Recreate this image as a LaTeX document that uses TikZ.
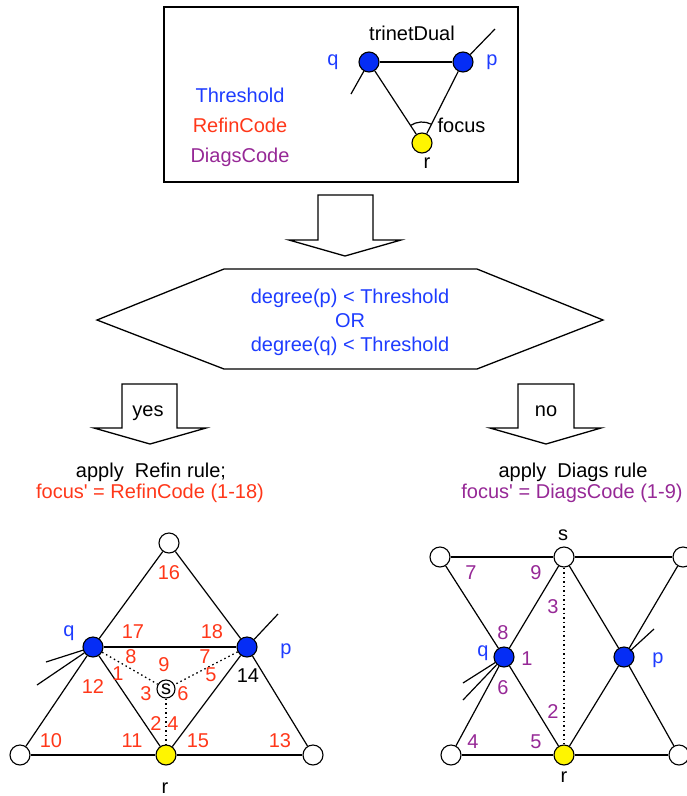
\documentclass[tikz,border=0pt]{standalone}
\usepackage{fontspec}
\setmainfont{Liberation Sans}
\usetikzlibrary{calc}
\definecolor{cblue}{RGB}{30,60,255}
\definecolor{cred}{RGB}{255,55,25}
\definecolor{cpurp}{RGB}{150,40,150}
\definecolor{cnode}{RGB}{5,45,245}
\definecolor{cyel}{RGB}{255,245,0}
\begin{document}
\begin{tikzpicture}[x=1pt,y=-1pt, line width=1.2pt,
  every node/.style={font=\fontsize{20}{24}\selectfont, inner sep=0pt},
  vert/.style={circle,draw,line width=1.1pt,minimum size=20pt,inner sep=0pt,fill=white},
  bvert/.style={vert,fill=cnode},
  yvert/.style={vert,fill=cyel},
  svert/.style={circle,draw,line width=1.1pt,minimum size=18pt,inner sep=0pt,fill=white},
  dots/.style={line width=1.3pt, dash pattern=on 1.5pt off 3pt},
  rlab/.style={text=cred}, plab/.style={text=cpurp}, blab/.style={text=cblue},
  blockarrow/.style={draw,line width=1.3pt,fill=white,line join=miter}
]
\useasboundingbox (0,0) rectangle (687,796);

% ---------- top box ----------
\node[draw, line width=1.3pt, minimum width=354pt, minimum height=175pt] (box) at (341,94.5) {};
\node[bvert] (tq) at (369,62) {};
\node[bvert] (tp) at (463,62) {};
\node[yvert] (tr) at (422,143) {};
\draw (tq) -- (tp);
\draw (tq) -- (tr);
\draw (tp) -- (tr);
\coordinate (tqs) at (351,94);
\coordinate (tps) at (495,29);
\draw (tq) -- (tqs);
\draw (tp) -- (tps);
\draw ($(tr)+(63:21pt)$) arc[start angle=63,end angle=123,radius=21pt];
\node[anchor=base] (ttd) at (412,40) {trinetDual};
\node[blab] (tql) at (333,62) {q};
\node[blab] (tpl) at (492,62) {p};
\node (trl) at (427,163) {r};
\node[anchor=base west] (tfoc) at (437,132) {focus};
\node[blab,anchor=base] (thr) at (240,102) {Threshold};
\node[rlab,anchor=base] (rfc) at (240,132) {RefinCode};
\node[plab,anchor=base] (dgc) at (240,162) {DiagsCode};

% ---------- arrow and condition ----------
\draw[blockarrow] (318,195) -- (373,195) -- (373,240) -- (401,240) -- (345,256) -- (289,240) -- (318,240) -- cycle;
\draw[line width=1.3pt, line join=miter] (97,320) -- (224,269) -- (477,269) -- (603,320) -- (477,369) -- (224,369) -- cycle;
\node[blab, align=center] (cond) at (350,322) {degree(p) < Threshold\\OR\\degree(q) < Threshold};

\draw[blockarrow] (122,384) -- (177,384) -- (177,428) -- (206,428) -- (150,444) -- (94,428) -- (122,428) -- cycle;
\draw[blockarrow] (518,384) -- (574,384) -- (574,428) -- (601,428) -- (546,444) -- (490,428) -- (518,428) -- cycle;
\node[anchor=base] (yes) at (148,416) {yes};
\node[anchor=base] (no) at (546,416) {no};

\node[anchor=base] (appl) at (151,477) {apply~ Refin rule;};
\node[rlab,anchor=base] (focl) at (150,498) {focus\textquotesingle{} = RefinCode (1-18)};
\node[anchor=base] (appr) at (573,477) {apply~ Diags rule};
\node[plab,anchor=base] (focr) at (572,498) {focus\textquotesingle{} = DiagsCode (1-9)};

% ---------- left diagram ----------
\node[vert] (Lt) at (169,543) {};
\node[bvert] (Lq) at (93,647) {};
\node[bvert] (Lp) at (247,647) {};
\node[vert] (Lbl) at (20,755) {};
\node[yvert] (Lr) at (166,755) {};
\node[vert] (Lbr) at (313,755) {};
\node[svert] (Ls) at (166,689) {s};
\draw (Lt) -- (Lq);
\draw (Lt) -- (Lp);
\draw (Lq) -- (Lp);
\draw (Lq) -- (Lbl);
\draw (Lq) -- (Lr);
\draw (Lp) -- (Lr);
\draw (Lp) -- (Lbr);
\draw (Lbl) -- (Lr);
\draw (Lr) -- (Lbr);
\draw[dots] (Lq) -- (Ls);
\draw[dots] (Lp) -- (Ls);
\draw[dots] (Ls) -- (Lr);
\coordinate (Lqs1) at (46,662);
\coordinate (Lqs2) at (37,685);
\coordinate (Lps) at (278,614);
\draw (Lq) -- (Lqs1);
\draw (Lq) -- (Lqs2);
\draw (Lp) -- (Lps);
\node[blab] (Lql) at (69,633) {q};
\node[blab] (Lpl) at (286,651) {p};
\node (Lrl) at (165,788) {r};
\node[rlab] (l16) at (169,573) {16};
\node[rlab] (l17) at (133,632) {17};
\node[rlab] (l18) at (212,632) {18};
\node[rlab] (l8) at (131,657) {8};
\node[rlab] (l9) at (164,665) {9};
\node[rlab] (l7) at (205,657) {7};
\node[rlab] (l1) at (118,674) {1};
\node[rlab] (l5) at (211,675) {5};
\node (l14) at (248,676) {14};
\node[rlab] (l12) at (93,687) {12};
\node[rlab] (l3) at (146,694) {3};
\node[rlab] (l6) at (183,694) {6};
\node[rlab] (l2) at (156,724) {2};
\node[rlab] (l4) at (173,724) {4};
\node[rlab] (l10) at (51,741) {10};
\node[rlab] (l11) at (132,741) {11};
\node[rlab] (l15) at (198,741) {15};
\node[rlab] (l13) at (280,741) {13};

% ---------- right diagram ----------
\node[vert] (Rtl) at (440,557) {};
\node[vert] (Rs) at (564,557) {};
\node[vert] (Rtr) at (683,557) {};
\node[bvert] (Rq) at (504,657) {};
\node[bvert] (Rp) at (624,657) {};
\node[vert] (Rbl) at (451,755) {};
\node[yvert] (Rr) at (564,755) {};
\node[vert] (Rbr) at (679,755) {};
\draw (Rtl) -- (Rs);
\draw (Rs) -- (Rtr);
\draw (Rtl) -- (Rq);
\draw (Rq) -- (Rr);
\draw (Rs) -- (Rq);
\draw (Rq) -- (Rbl);
\draw (Rs) -- (Rp);
\draw (Rp) -- (Rbr);
\draw (Rtr) -- (Rp);
\draw (Rp) -- (Rr);
\draw (Rbl) -- (Rr);
\draw (Rr) -- (Rbr);
\draw[dots] (Rs) -- (Rr);
\coordinate (Rqs1) at (463,683);
\coordinate (Rqs2) at (463,700);
\coordinate (Rps) at (654,629);
\draw (Rq) -- (Rqs1);
\draw (Rq) -- (Rqs2);
\draw (Rps) -- ($(Rp)+(6,-6)$);
\node (Rsl) at (563,535) {s};
\node (Rrl) at (564,777) {r};
\node[blab] (Rql) at (483,653) {q};
\node[blab] (Rpl) at (658,660) {p};
\node[plab] (r7) at (471,573) {7};
\node[plab] (r9) at (536,573) {9};
\node[plab] (r3) at (553,607) {3};
\node[plab] (r8) at (503,633) {8};
\node[plab] (r1) at (527,659) {1};
\node[plab] (r6) at (503,688) {6};
\node[plab] (r2) at (553,712) {2};
\node[plab] (r4) at (473,742) {4};
\node[plab] (r5) at (536,742) {5};
\end{tikzpicture}
\end{document}
